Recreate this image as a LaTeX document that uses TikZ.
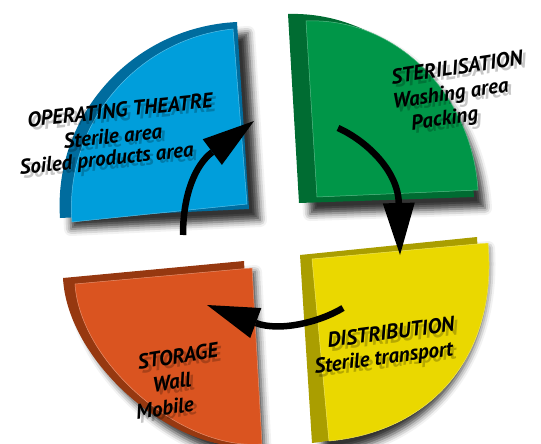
\documentclass[tikz,border=0pt]{standalone}
\usepackage{fontspec}
\setmainfont{PT Sans}
\usetikzlibrary{arrows.meta,shadows.blur}

\definecolor{opfront}{RGB}{0,158,219}
\definecolor{opside}{RGB}{0,108,158}
\definecolor{stfront}{RGB}{0,150,72}
\definecolor{stside}{RGB}{0,108,50}
\definecolor{dsfront}{RGB}{234,216,0}
\definecolor{dsside}{RGB}{170,158,0}
\definecolor{sgfront}{RGB}{218,84,32}
\definecolor{sgside}{RGB}{150,56,16}

\makeatletter
\newcommand\shadetext[1]{\rlap{\pgfsys@beginscope\pgfsetfillopacity{0.22}\kern3pt\raisebox{-4pt}{#1}\pgfsys@endscope}#1}
\makeatother

\tikzset{
  areatext/.style={font=\fontsize{21}{25}\selectfont\bfseries\itshape, inner sep=0pt},
  backpiece/.style={fill=#1, blur shadow={shadow xshift=11pt, shadow yshift=-11pt, shadow blur radius=7pt, shadow opacity=80}},
  frontpiece/.style={fill=#1, draw=white!35!#1, line width=0.5pt},
  flow/.style={line width=6.5pt, draw=black, draw opacity=1, fill opacity=1,
    -{Triangle[length=52pt,width=32pt,fill=black,line width=0pt]}}
}

\begin{document}
\begin{tikzpicture}[x=1pt,y=-1pt]
  \useasboundingbox (0,0) rectangle (541,444);
  \clip (0,0) rectangle (541,444);

  % operating theatre (top left)
  \fill[backpiece=opside] (249,209) -- (237,22) .. controls (133,27) and (53,115) .. (60,218) -- cycle;
  \fill[frontpiece=opfront] (247,204) -- (233,29) .. controls (136,39) and (64,125) .. (72,222) -- cycle;

  % sterilisation (top right)
  \fill[backpiece=stside] (299,203) -- (288,14) .. controls (385,11) and (468,93) .. (474,197) -- cycle;
  \fill[frontpiece=stfront] (317,197) -- (306,21) .. controls (395,17) and (472,93) .. (478,190) -- cycle;

  % distribution (bottom right)
  \fill[backpiece=dsside] (300,255) -- (477,237) .. controls (484,350) and (418,432) .. (312,443) -- cycle;
  \fill[frontpiece=dsfront] (312,259) -- (488,243) .. controls (498,352) and (435,431) .. (329,441) -- cycle;

  % storage (bottom left)
  \fill[backpiece=sgside] (244,261) -- (63,278) .. controls (67,361) and (172,454) .. (254,446) -- cycle;
  \fill[frontpiece=sgfront] (252,268) -- (75,284) .. controls (80,363) and (182,451) .. (262,444) -- cycle;

  % texts
  \foreach \txt/\px/\py/\rot/\nm in {
      OPERATING THEATRE/120/112/6/op1, Sterile area/113/138/6/op2, Soiled products area/107/162/6/op3,
      STERILISATION/457/69/8.5/st1, Washing area/451/97/8.5/st2, Packing/445/122/8.5/st3,
      DISTRIBUTION/391/334/7.5/ds1, Sterile transport/384/361/7.5/ds2,
      STORAGE/178/358/9/sg1, Wall/172/384/9/sg2, Mobile/165/410/9/sg3}{
    \node[areatext, rotate=\rot] (\nm) at (\px,\py) {\shadetext{\txt}};
  }

  % flow arrows
  \coordinate (opS) at (183,235);
  \coordinate (opE) at (254,121);
  \coordinate (stS) at (338,128);
  \coordinate (stE) at (400,255);
  \coordinate (dsS) at (343,308);
  \coordinate (dsE) at (207,305);
  \draw[flow] (opS) .. controls (183,195) and (195,165) .. (opE);
  \draw[flow] (stS) .. controls (365,140) and (398,170) .. (stE);
  \draw[flow] (dsS) .. controls (320,322) and (280,332) .. (dsE);
\end{tikzpicture}
\end{document}
